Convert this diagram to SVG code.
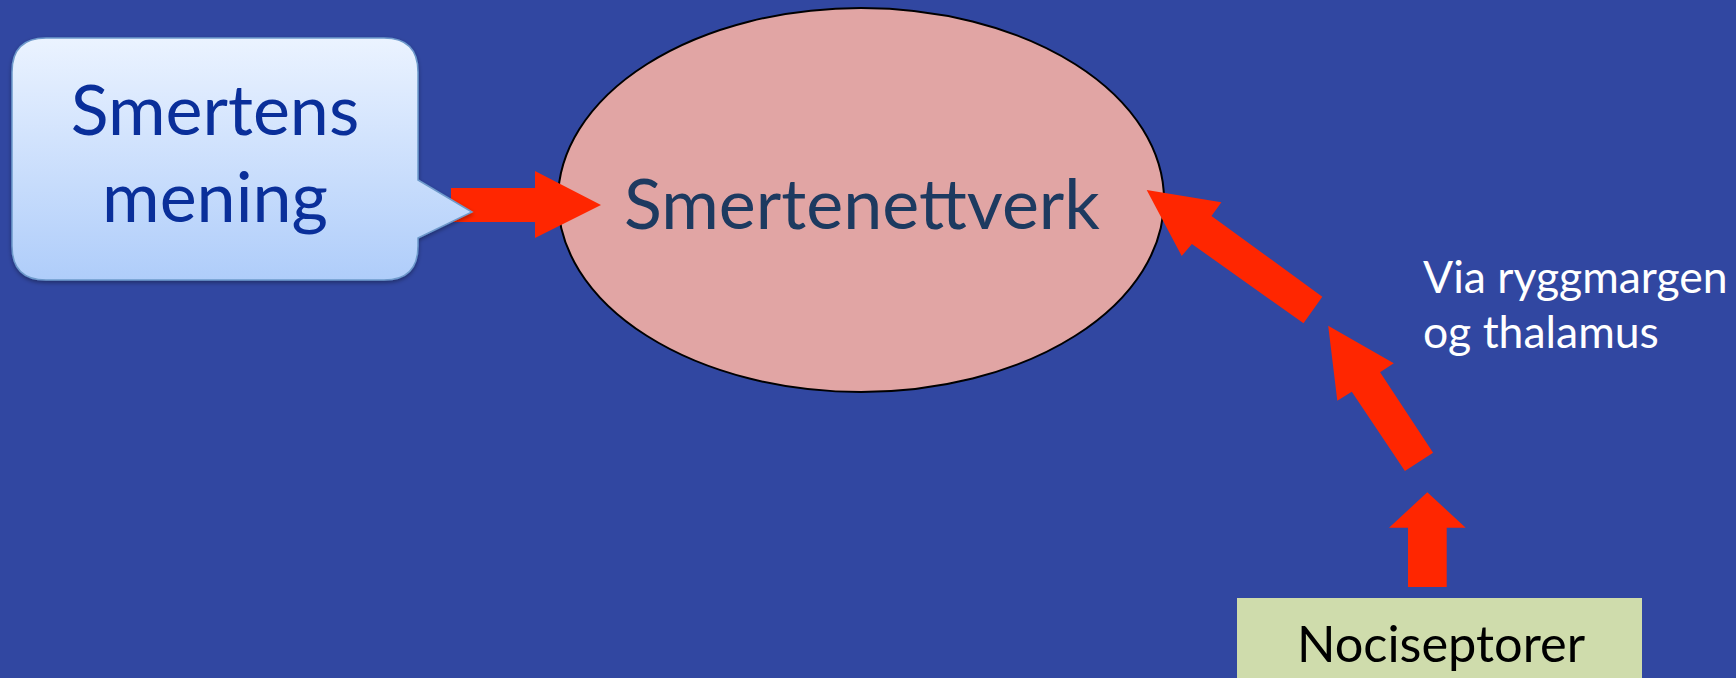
<svg xmlns="http://www.w3.org/2000/svg" width="1736" height="678" viewBox="0 0 1736 678">
<defs>
<linearGradient id="callGrad" x1="0" y1="0" x2="0" y2="1">
<stop offset="0" stop-color="#EBF3FF"/>
<stop offset="1" stop-color="#AFCDFA"/>
</linearGradient>
<filter id="shadow" x="-10%" y="-10%" width="120%" height="130%">
<feDropShadow dx="0" dy="2" stdDeviation="2" flood-color="#000" flood-opacity="0.35"/>
</filter>
</defs>
<style>
.arrow{fill:#FF2600;stroke:none}
.t{font-family:Lato,"Liberation Sans",sans-serif}
</style>
<rect x="0" y="0" width="1736" height="678" fill="#3147A1"/>
<g id="node-smertenettverk">
<ellipse cx="861" cy="200" rx="303" ry="192" fill="#E1A5A4" stroke="#000" stroke-width="2"/>
<text class="t" x="862" y="229" text-anchor="middle" font-size="70" fill="#1D3A60">Smertenettverk</text>
</g>
<g id="connectors">
<polygon class="arrow" points="451,188 535,188 535,171 601,205 535,238 535,222 451,222"/>
<polygon class="arrow" points="1146.7,190 1221.4,202.3 1211.5,216 1322.3,296.7 1303.5,323.3 1191.9,244 1181.7,256"/>
<polygon class="arrow" points="1328.2,325.7 1393.8,363.3 1380.1,372.3 1433.1,452.7 1404.9,471 1351.8,391.7 1337.3,400.7"/>
<polygon class="arrow" points="1427.3,492.3 1465.7,527.7 1446.7,527.7 1446.7,587 1408,587 1408,527.7 1389,527.7"/>
</g>
<g id="node-smertens-mening">
<path d="M46,38 H384 Q418,38 418,72 V180 L472,212 L418,238 V246 Q418,280 384,280 H46 Q12,280 12,246 V72 Q12,38 46,38 Z" fill="url(#callGrad)" stroke="#6E9ACB" stroke-width="1.5" filter="url(#shadow)"/>
<text class="t" x="215" y="135" text-anchor="middle" font-size="70" fill="#0A2F9A">Smertens</text>
<text class="t" x="215" y="222" text-anchor="middle" font-size="70" fill="#0A2F9A">mening</text>
</g>
<g id="node-nociseptorer">
<rect x="1237" y="598" width="405" height="90" fill="#CFDCAC"/>
<text class="t" x="1441" y="662" text-anchor="middle" font-size="50.5" fill="#000">Nociseptorer</text>
</g>
<g id="label-via">
<text class="t" x="1423" y="293" font-size="44.5" fill="#FFFFFF">Via ryggmargen</text>
<text class="t" x="1423" y="348" font-size="44.5" fill="#FFFFFF">og thalamus</text>
</g>
</svg>
